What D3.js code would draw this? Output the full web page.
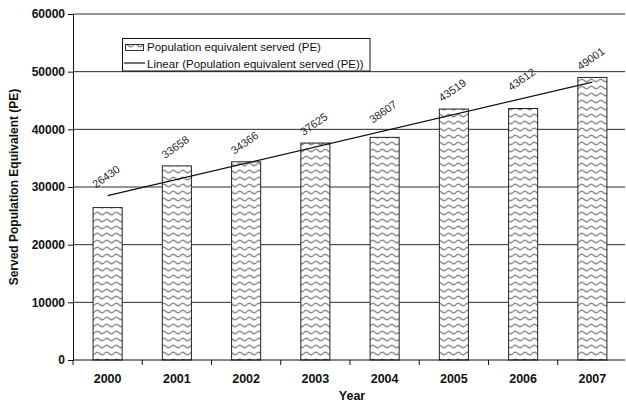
<!DOCTYPE html>
<html>
<head>
<meta charset="utf-8">
<script src="https://cdn.jsdelivr.net/npm/d3@7/dist/d3.min.js"></script>
<style>
  html, body { margin: 0; padding: 0; background: #fff; }
  svg { display: block; font-family: "Liberation Sans", Arial, sans-serif; }
</style>
</head>
<body>
<svg id="chart" width="626" height="404"></svg>
<script>
// Served population equivalent per year
const years = ['2000', '2001', '2002', '2003', '2004', '2005', '2006', '2007'];
const peServed = [26430, 33658, 34366, 37625, 38607, 43519, 43612, 49001];
const yTicks = [0, 10000, 20000, 30000, 40000, 50000, 60000];

const svg = d3.select('#chart');
const plotL = 73, plotR = 627, plotT = 14, plotB = 360, gridR = 625;

const x = d3.scaleBand().domain(years).range([plotL, plotR])
  .paddingInner(0.58).paddingOuter(0.29);
const y = d3.scaleLinear().domain([0, 60000]).range([plotB, plotT]);

// Wavy fill used by the bars and the legend swatch
const defs = svg.append('defs');
const pat = defs.append('pattern')
  .attr('id', 'wave').attr('patternUnits', 'userSpaceOnUse')
  .attr('width', 9.5).attr('height', 7);
pat.append('rect').attr('width', 9.5).attr('height', 7).attr('fill', '#fff');
pat.append('path')
  .attr('d', 'M0,3.5 Q2.375,0.8 4.75,3.5 T9.5,3.5')
  .attr('fill', 'none').attr('stroke', '#8e8e8e').attr('stroke-width', 1.5);

// Horizontal gridlines
svg.append('g').selectAll('line')
  .data(yTicks.filter(t => t > 0))
  .join('line')
  .attr('x1', plotL).attr('x2', gridR)
  .attr('y1', d => y(d)).attr('y2', d => y(d))
  .attr('stroke', '#2a2a2a').attr('stroke-width', 1);

// Bars
svg.append('g').selectAll('rect')
  .data(peServed)
  .join('rect')
  .attr('x', (d, i) => x(years[i]))
  .attr('y', d => y(d))
  .attr('width', x.bandwidth())
  .attr('height', d => y(0) - y(d))
  .attr('fill', 'url(#wave)')
  .attr('stroke', '#222').attr('stroke-width', 1);

// Least-squares linear trend over the series
const n = peServed.length;
const mx = d3.mean(d3.range(n));
const my = d3.mean(peServed);
const slope = d3.sum(peServed, (v, i) => (i - mx) * (v - my)) / d3.sum(d3.range(n), i => (i - mx) ** 2);
const icpt = my - slope * mx;
const trend = i => icpt + slope * i;
const cx = i => x(years[i]) + x.bandwidth() / 2;

svg.append('line')
  .attr('x1', cx(0)).attr('y1', y(trend(0)))
  .attr('x2', cx(n - 1)).attr('y2', y(trend(n - 1)))
  .attr('stroke', '#111').attr('stroke-width', 1.3);

// Value labels, rotated, kept clear of the trend line
svg.append('g').selectAll('text')
  .data(peServed)
  .join('text')
  .attr('transform', (d, i) => {
    const ly = Math.min(y(d), y(trend(i))) - 7;
    return `translate(${cx(i) - 12},${ly}) rotate(-35)`;
  })
  .attr('font-size', 11).attr('fill', '#2a2a2a')
  .text(d => d);

// Y axis
const yAxis = svg.append('g')
  .attr('transform', `translate(${plotL},0)`)
  .call(d3.axisLeft(y).tickValues(yTicks).tickSize(5).tickPadding(3).tickFormat(d3.format('d')));
yAxis.select('.domain').attr('stroke', '#111');
yAxis.selectAll('.tick line').attr('stroke', '#111');
yAxis.selectAll('text').attr('font-size', 12).attr('font-weight', 'bold')
  .attr('font-family', '"Liberation Sans", Arial, sans-serif').attr('fill', '#111');

// X axis: baseline, tick marks at category boundaries, labels centred
svg.append('line')
  .attr('x1', plotL).attr('x2', gridR).attr('y1', plotB).attr('y2', plotB)
  .attr('stroke', '#111');
svg.append('g').selectAll('line')
  .data(d3.range(n + 1))
  .join('line')
  .attr('x1', i => plotL + i * x.step()).attr('x2', i => plotL + i * x.step())
  .attr('y1', plotB).attr('y2', plotB + 5)
  .attr('stroke', '#111');
svg.append('g').selectAll('text')
  .data(years)
  .join('text')
  .attr('x', d => x(d) + x.bandwidth() / 2)
  .attr('y', 383)
  .attr('text-anchor', 'middle')
  .attr('font-size', 12.5).attr('font-weight', 'bold').attr('fill', '#111')
  .text(d => d);

// Axis titles
svg.append('text')
  .attr('x', (plotL + plotR) / 2 + 2).attr('y', 400)
  .attr('text-anchor', 'middle')
  .attr('font-size', 12.5).attr('font-weight', 'bold').attr('fill', '#111')
  .text('Year');
svg.append('text')
  .attr('transform', `translate(18,${(plotT + plotB) / 2}) rotate(-90)`)
  .attr('text-anchor', 'middle')
  .attr('font-size', 12).attr('font-weight', 'bold').attr('fill', '#111')
  .text('Served Population Equivalent (PE)');

// Legend
const lg = svg.append('g');
lg.append('rect')
  .attr('x', 122.5).attr('y', 38.5).attr('width', 247.5).attr('height', 32.5)
  .attr('fill', '#fff').attr('stroke', '#111');
lg.append('rect')
  .attr('x', 125.5).attr('y', 44.5).attr('width', 18).attr('height', 6)
  .attr('fill', 'url(#wave)').attr('stroke', '#333');
lg.append('text')
  .attr('x', 147).attr('y', 51)
  .attr('font-size', 11.5).attr('fill', '#111')
  .text('Population equivalent served (PE)');
lg.append('line')
  .attr('x1', 124).attr('x2', 145).attr('y1', 63).attr('y2', 63)
  .attr('stroke', '#111').attr('stroke-width', 1.2);
lg.append('text')
  .attr('x', 147).attr('y', 67.5)
  .attr('font-size', 11.5).attr('fill', '#111')
  .text('Linear (Population equivalent served (PE))');
</script>
</body>
</html>
